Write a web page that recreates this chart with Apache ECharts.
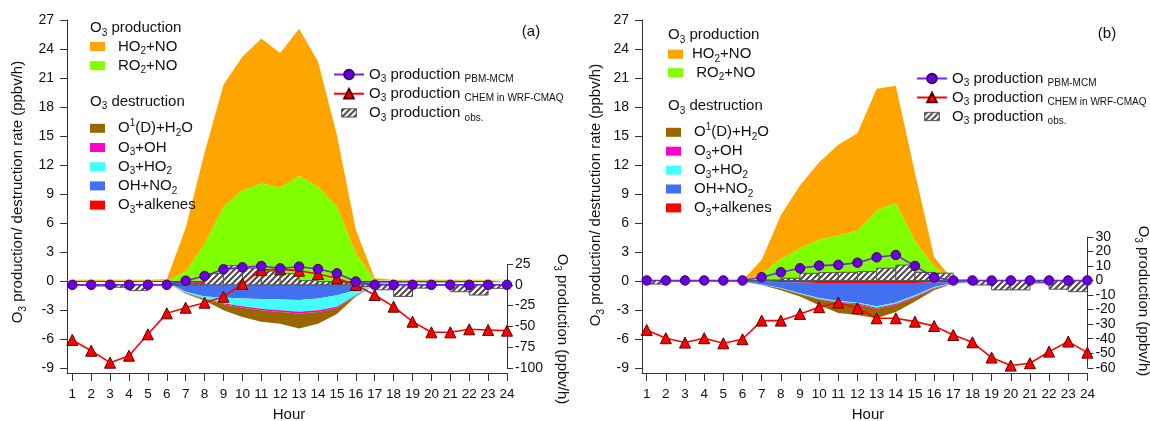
<!DOCTYPE html>
<html><head><meta charset="utf-8">
<script src="https://cdn.jsdelivr.net/npm/echarts@6/dist/echarts.min.js"></script>
<style>html,body{margin:0;padding:0;background:#fff}#c{width:1150px;height:421px}</style>
</head><body><div id="c"></div>
<script>
// ---------- data ----------
const hours = [1,2,3,4,5,6,7,8,9,10,11,12,13,14,15,16,17,18,19,20,21,22,23,24];
const obsStartHours = [1,2,3,4,5,6,7,8,9,10,11,12,13,14,15,16,17,18,19,20,21,22,23];
const yLeftTicks = [-9,-6,-3,0,3,6,9,12,15,18,21,24,27];
const yRightTicksA = [-100,-75,-50,-25,0,25];
const yRightTicksB = [-60,-50,-40,-30,-20,-10,0,10,20,30];

// panel (a): production terms (ppbv/h, left axis)
const a_HO2NO = [0.1,0.1,0.1,0.1,0.1,0.15,4.5,9.4,12.6,13.8,15.0,13.95,15.2,12.95,7.4,2.4,0.2,0.1,0.1,0.1,0.1,0.1,0.1,0.1];
const a_RO2NO = [0.05,0.05,0.05,0.05,0.05,0.05,1.0,3.9,7.7,9.4,10.1,9.65,10.9,9.75,7.7,2.9,0.1,0.05,0.05,0.05,0.05,0.05,0.05,0.05];
// panel (a): destruction terms (negative)
const a_alkenes = [-0.1,-0.1,-0.1,-0.1,-0.1,-0.1,-0.15,-0.2,-0.2,-0.25,-0.25,-0.25,-0.25,-0.25,-0.2,-0.15,-0.12,-0.1,-0.1,-0.1,-0.1,-0.1,-0.1,-0.1];
const a_OHNO2 = [0,0,0,0,0,0,-0.95,-1.4,-1.5,-1.55,-1.6,-1.65,-1.71,-1.55,-1.25,-0.78,-0.18,-0.1,-0.08,-0.05,-0.05,-0.02,-0.02,0];
const a_O3HO2 = [0,0,0,0,0,0,-0.1,-0.2,-0.6,-0.8,-1.0,-1.1,-1.21,-1.2,-1.2,-0.52,-0.08,-0.07,-0.04,-0.03,-0.03,-0.02,-0.01,-0.01];
const a_O3OH = [0,0,0,0,0,0,-0.02,-0.05,-0.1,-0.15,-0.15,-0.18,-0.18,-0.18,-0.15,-0.05,-0.01,0,0,0,0,0,0,0];
const a_O1D = [0,0,0,0,0,0,-0.08,-0.15,-0.6,-0.95,-1.2,-1.22,-1.55,-1.22,-0.6,-0.1,-0.01,0,0,0,0,0,0,0];
// panel (a): O3 production lines (right axis)
const a_PBM = [0,0,0,0,0,0,4.9,10.6,18.6,21.0,22.6,19.8,21.8,19.0,13.8,3.9,0,0,0,0,0,0,0,0];
const a_CHEM = [-66.3,-79.2,-93.6,-85.2,-59.5,-34.3,-27.5,-21.5,-14.3,1,17.8,18.6,17,13,7.8,-0.2,-12.3,-26.3,-44.3,-57.1,-57.1,-53.5,-54.3,-55.1];
const a_OBS = [-0.5,-1.5,-3,-7,-0.3,0,1,13.5,23,20,16.5,13.5,5,4,2.5,-2,-6,-14,-4,-0.5,-8.3,-12.3,-4.2];

// panel (b)
const b_HO2NO = [0.03,0.03,0.03,0.03,0.03,0.03,1.4,4.5,6.5,8.0,9.35,10.1,12.6,12.1,7.0,1.0,0.05,0.03,0.03,0.03,0.03,0.03,0.03,0.03];
const b_RO2NO = [0.02,0.02,0.02,0.02,0.02,0.02,0.8,2.3,3.4,4.3,4.75,5.2,7.3,8.1,4.2,1.5,0.05,0.02,0.02,0.02,0.02,0.02,0.02,0.02];
const b_alkenes = [-0.03,-0.03,-0.03,-0.03,-0.03,-0.03,-0.05,-0.1,-0.15,-0.2,-0.2,-0.2,-0.2,-0.2,-0.2,-0.15,-0.08,-0.05,-0.05,-0.05,-0.05,-0.05,-0.05,-0.05];
const b_OHNO2 = [0,0,0,0,0,0,-0.3,-0.62,-1.1,-1.55,-1.85,-2.0,-2.4,-2.0,-1.25,-0.45,-0.12,-0.1,-0.1,-0.15,-0.2,-0.2,-0.1,-0.05];
const b_O3HO2 = [0,0,0,0,0,0,-0.02,-0.04,-0.07,-0.1,-0.1,-0.1,-0.15,-0.15,-0.15,-0.12,-0.02,-0.02,-0.02,-0.02,-0.02,-0.02,-0.02,-0.02];
const b_O3OH = [0,0,0,0,0,0,0,0,-0.03,-0.05,-0.07,-0.08,-0.12,-0.1,-0.1,-0.07,-0.02,0,0,0,0,0,0,0];
const b_O1D = [0,0,0,0,0,0,-0.03,-0.19,-0.25,-0.6,-1.08,-1.12,-0.98,-0.75,-0.4,-0.16,-0.01,0,0,0,0,0,0,0];
const b_PBM = [0,0,0,0,0,0,2.2,5.6,8.4,10.2,10.7,12.2,15.9,17.5,10.0,2.0,0,0,0,0,0,0,0,0];
const b_CHEM = [-34,-39.7,-42.7,-39.7,-43.2,-40.4,-27.6,-27.6,-23,-18.4,-15.2,-19.1,-26,-26,-28.3,-31.3,-37.5,-42.5,-53,-58.5,-56.9,-48.9,-42,-49.6];
const b_OBS = [-2.5,-0.3,-0.3,0,0,0,0.3,1.5,4.9,5.4,5.6,6.1,8.4,10.5,5.5,5.0,0.3,-3.1,-6.5,-6.5,-1,-6,-7.7];

// ---------- styles ----------
const FONT = '"Liberation Sans", Arial, Helvetica, sans-serif';
const C = {HO2NO:'#FFA500', RO2NO:'#7FFF00', O1D:'#996600', O3OH:'#FF00CC', O3HO2:'#44FFFF', OHNO2:'#4270F0', alk:'#FF0000'};
const N = {HO2NO:'HO2+NO', RO2NO:'RO2+NO', O1D:'O1D+H2O', O3OH:'O3+OH', O3HO2:'O3+HO2', OHNO2:'OH+NO2', alk:'O3+alkenes',
  PBM:'O3 production PBM-MCM', CHEM:'O3 production CHEM in WRF-CMAQ', OBS:'O3 production obs.'};

function hatchCanvas(){
  const s = 6;
  const c = document.createElement('canvas'); c.width = s; c.height = s;
  const g = c.getContext('2d');
  g.fillStyle = '#fff'; g.fillRect(0,0,s,s);
  g.strokeStyle = '#4a4a4a'; g.lineWidth = 2; g.beginPath();
  g.moveTo(-1,s+1); g.lineTo(s+1,-1);
  g.moveTo(-1,1); g.lineTo(1,-1);
  g.moveTo(s-1,s+1); g.lineTo(s+1,s-1);
  g.stroke();
  return c;
}
const hatch = {image: hatchCanvas(), repeat: 'repeat'};

const rich = {
  n: {fontSize: 15, fontFamily: FONT, color: '#111', lineHeight: 20},
  s: {fontSize: 10, fontFamily: FONT, color: '#111', lineHeight: 10, verticalAlign: 'bottom'},
  p: {fontSize: 10, fontFamily: FONT, color: '#111', lineHeight: 10, verticalAlign: 'top'},
  l: {fontSize: 10, fontFamily: FONT, color: '#111', lineHeight: 8, verticalAlign: 'bottom'}
};
const fmt = {};
fmt[N.HO2NO] = '{n|HO}{s|2}{n|+NO}';
fmt[N.RO2NO] = '{n|RO}{s|2}{n|+NO}';
fmt[N.O1D] = '{n|O}{p|1}{n|(D)+H}{s|2}{n|O}';
fmt[N.O3OH] = '{n|O}{s|3}{n|+OH}';
fmt[N.O3HO2] = '{n|O}{s|3}{n|+HO}{s|2}';
fmt[N.OHNO2] = '{n|OH+NO}{s|2}';
fmt[N.alk] = '{n|O}{s|3}{n|+alkenes}';
fmt[N.PBM] = '{n|O}{s|3}{n| production }{l|PBM-MCM}';
fmt[N.CHEM] = '{n|O}{s|3}{n| production }{l|CHEM in WRF-CMAQ}';
fmt[N.OBS] = '{n|O}{s|3}{n| production }{l|obs.}';

const pairs = (arr) => hours.map((h,i) => [h, arr[i]]);

// value first so the library stacks on the y dimension
function area(name, arr, color, stack, xi, yi){
  return {name, type:'line', xAxisIndex:xi, yAxisIndex:yi, stack,
    data: arr.map((v,i) => [v, hours[i]]), encode:{x:1, y:0}, symbol:'none',
    color, itemStyle:{color}, lineStyle:{width:0, color}, areaStyle:{color, opacity:1},
    z:2, silent:true, emphasis:{disabled:true}};
}
function obsSeries(arr, xi, yi){
  return {name:N.OBS, type:'custom', xAxisIndex:xi, yAxisIndex:yi, clip:true, z:3, silent:true,
    itemStyle:{color:hatch, borderColor:'#555', borderWidth:1},
    data: obsStartHours.map((h,i)=>[h, arr[i]]),
    encode:{x:0, y:1},
    renderItem(params, api){
      const h = api.value(0), v = api.value(1);
      const a = api.coord([h, 0]), b = api.coord([h + 1, v]);
      return {type:'rect', shape:{x:a[0], y:Math.min(a[1],b[1]), width:b[0]-a[0], height:Math.max(Math.abs(b[1]-a[1]),0.5)},
        style:{fill:hatch, stroke:'#555', lineWidth:1}};
    }};
}
function pbm(arr, xi, yi, axLo, axHi){
  return {name:N.PBM, type:'line', xAxisIndex:xi, yAxisIndex:yi, data:pairs(arr), z:5,
    symbol:'circle', symbolSize:9.5, color:'#6A00D8',
    itemStyle:{color:'#6A00D8', borderColor:'#3A0078', borderWidth:1},
    lineStyle:{color:'#7A20E8', width:1.6}, emphasis:{disabled:true},
    markLine:{silent:true, symbol:['none','none'], label:{show:false}, animation:false,
      lineStyle:{color:'#333', width:1, type:'solid'},
      data:[[{coord:[24, axLo]},{coord:[24, axHi]}]]}};
}
function chem(arr, xi, yi){
  return {name:N.CHEM, type:'line', xAxisIndex:xi, yAxisIndex:yi, data:pairs(arr), z:4,
    symbol:'triangle', symbolSize:11, color:'#FF0000',
    itemStyle:{color:'#FF0000', borderColor:'#550000', borderWidth:1},
    lineStyle:{color:'#FF0000', width:1.6}, emphasis:{disabled:true}};
}
function xAx(gi, min){
  return {type:'value', gridIndex:gi, min, max:24,
    axisLine:{show:true, onZero:false, lineStyle:{color:'#333', width:1}},
    axisTick:{show:true, customValues:hours, length:8, lineStyle:{color:'#333'}},
    axisLabel:{customValues:hours, margin:14, fontSize:13.5, color:'#111', fontFamily:FONT},
    splitLine:{show:false}};
}
function yAx(gi, min, max, ticks, pos, showLine, margin, len){
  return {type:'value', gridIndex:gi, min, max, position:pos,
    axisLine:{show:showLine, onZero:false, lineStyle:{color:'#333', width:1}},
    axisTick:{show:true, customValues:ticks, length:len, lineStyle:{color:'#333'}},
    axisLabel:{customValues:ticks, margin, fontSize:14, color:'#111', fontFamily:FONT},
    splitLine:{show:false}};
}
function legend(left, top, gap, data, extraPad, iw, ih, icon, f){
  const l = {left, top, orient:'vertical', padding:0, itemGap:gap, itemWidth:iw, itemHeight:ih,
    data, selectedMode:false, z:10,
    formatter: f || (name => fmt[name]),
    textStyle:{rich, padding:[0,0,0,extraPad]}};
  if (icon) l.icon = icon;
  return l;
}
function txt(x, y, text, rot, align){
  return {type:'text', x, y, rotation:rot||0, silent:true, z:100,
    style:{text, rich, align:align||'left', verticalAlign:'middle', fill:'#111', font:'15px '+FONT}};
}
const hatchIcon = 'path://M0,-2L0,-2M0,0L16,0L16,9L0,9Z M0,11L0,11';
const lineLegendData = [N.PBM, N.CHEM, {name:N.OBS, icon:hatchIcon, itemStyle:{color:hatch, borderColor:'#555', borderWidth:1}}];

const option = {
  animation:false,
  backgroundColor:'#fff',
  grid:[
    {left:67, right:643, top:20, bottom:48},
    {left:642, right:62.6, top:20, bottom:48}
  ],
  xAxis:[xAx(0, 0.72), xAx(1, 0.755)],
  yAxis:[
    yAx(0, -9.5, 27, yLeftTicks, 'left', true, 13, 7),
    yAx(0, -106, 318.3, yRightTicksA, 'right', false, 8, 6),
    yAx(1, -9.5, 27, yLeftTicks, 'left', true, 13, 7),
    yAx(1, -63.6, 179, yRightTicksB, 'right', false, 8, 6)
  ],
  legend:[
    legend(90, 39, 1.7, [N.HO2NO, N.RO2NO], 8, 15, 9, 'rect'),
    legend(90, 118.3, 1.7, [N.O1D, N.O3OH, N.O3HO2, N.OHNO2, N.alk], 8, 15, 9, 'rect'),
    legend(333, 67, 1.7, lineLegendData, 0, 30, 12, null),
    legend(668, 46.7, 1, [N.HO2NO, N.RO2NO], 4, 15, 9, 'rect',
      name => name === N.RO2NO ? '{n| RO}{s|2}{n|+NO}' : fmt[name]),
    legend(666, 122.3, 1.4, [N.O1D, N.O3OH, N.O3HO2, N.OHNO2, N.alk], 8, 15, 9, 'rect'),
    legend(916, 71, 1.5, lineLegendData, 0, 30, 12, null)
  ],
  graphic:[
    txt(90, 28, '{n|O}{s|3}{n| production}'),
    txt(90, 101.7, '{n|O}{s|3}{n| destruction}'),
    txt(668, 35, '{n|O}{s|3}{n| production}'),
    txt(668, 106, '{n|O}{s|3}{n| destruction}'),
    txt(531, 32, '{n|(a)}', 0, 'center'),
    txt(1107, 34, '{n|(b)}', 0, 'center'),
    txt(18, 192, '{n|O}{s|3}{n| production/ destruction rate (ppbv/h)}', Math.PI/2, 'center'),
    txt(596, 195, '{n|O}{s|3}{n| production/ destruction rate (ppbv/h)}', Math.PI/2, 'center'),
    txt(562, 329, '{n|O}{s|3}{n| production (ppbv/h)}', -Math.PI/2, 'center'),
    txt(1143, 301, '{n|O}{s|3}{n| production (ppbv/h)}', -Math.PI/2, 'center'),
    txt(289, 415, '{n|Hour}', 0, 'center'),
    txt(868, 415, '{n|Hour}', 0, 'center')
  ],
  series:[
    area(N.RO2NO, a_RO2NO, C.RO2NO, 'pa', 0, 0),
    area(N.HO2NO, a_HO2NO, C.HO2NO, 'pa', 0, 0),
    area(N.alk, a_alkenes, C.alk, 'da', 0, 0),
    area(N.OHNO2, a_OHNO2, C.OHNO2, 'da', 0, 0),
    area(N.O3HO2, a_O3HO2, C.O3HO2, 'da', 0, 0),
    area(N.O3OH, a_O3OH, C.O3OH, 'da', 0, 0),
    area(N.O1D, a_O1D, C.O1D, 'da', 0, 0),
    obsSeries(a_OBS, 0, 1),
    chem(a_CHEM, 0, 1),
    pbm(a_PBM, 0, 1, -100, 25),

    area(N.RO2NO, b_RO2NO, C.RO2NO, 'pb', 1, 2),
    area(N.HO2NO, b_HO2NO, C.HO2NO, 'pb', 1, 2),
    area(N.alk, b_alkenes, C.alk, 'db', 1, 2),
    area(N.OHNO2, b_OHNO2, C.OHNO2, 'db', 1, 2),
    area(N.O3HO2, b_O3HO2, C.O3HO2, 'db', 1, 2),
    area(N.O3OH, b_O3OH, C.O3OH, 'db', 1, 2),
    area(N.O1D, b_O1D, C.O1D, 'db', 1, 2),
    obsSeries(b_OBS, 1, 3),
    chem(b_CHEM, 1, 3),
    pbm(b_PBM, 1, 3, -60, 30)
  ]
};
const chart = echarts.init(document.getElementById('c'), null, {renderer:'canvas'});
chart.setOption(option);
</script>
</body></html>
